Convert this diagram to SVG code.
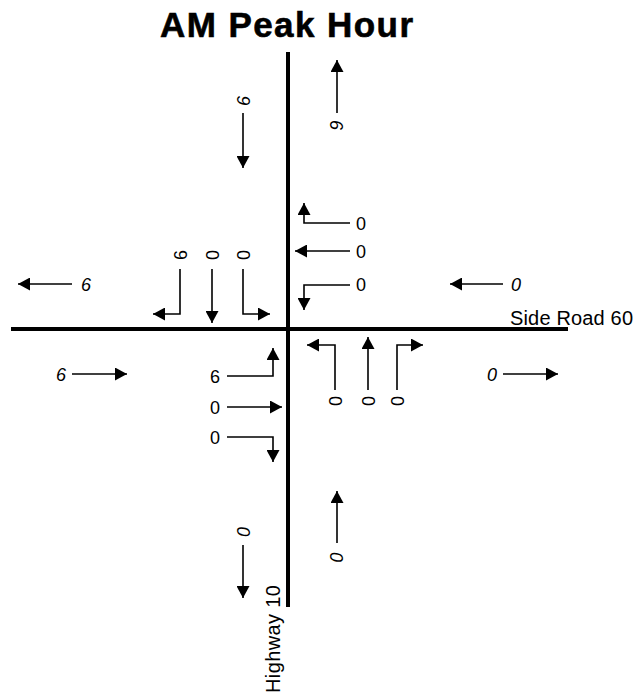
<svg xmlns="http://www.w3.org/2000/svg" width="637" height="698" viewBox="0 0 637 698">
<style>
.road{stroke:#000;stroke-width:4;fill:none}
.arr{stroke:#000;stroke-width:1.6;fill:none;marker-end:url(#ah)}
.lbl{font-family:"Liberation Sans",Arial,sans-serif;font-size:18px;fill:#000;text-anchor:middle}
.vol{font-family:"Liberation Sans",Arial,sans-serif;font-size:18px;font-style:italic;fill:#000;text-anchor:middle}
.name{font-family:"Liberation Sans",Arial,sans-serif;font-size:20px;fill:#000}
.title{font-family:"Liberation Sans",Arial,sans-serif;font-size:35px;font-weight:bold;fill:#000;stroke:#000;stroke-width:0.6}
</style>
<defs>
<marker id="ah" viewBox="0 0 12 13" refX="12" refY="6.5" markerWidth="12" markerHeight="13" markerUnits="userSpaceOnUse" orient="auto">
<path d="M0,0 L12,6.5 L0,13 z" fill="#000"/>
</marker>
</defs>
<rect width="637" height="698" fill="#fff"/>
<g id="title"><text class="title" x="160" y="37" textLength="253" lengthAdjust="spacing">AM Peak Hour</text></g>
<g id="roads">
<line class="road" x1="288" y1="52" x2="288" y2="607"/>
<line class="road" x1="11" y1="329" x2="568" y2="329"/>
</g>
<g id="road-names">
<text class="name" x="510" y="325" textLength="123" lengthAdjust="spacing">Side Road 60</text>
<text class="name" transform="translate(280,693) rotate(-90)" x="0" y="0" textLength="108" lengthAdjust="spacing">Highway 10</text>
</g>
<g id="connectors">
<path class="arr" d="M243,113 V168"/>
<path class="arr" d="M337,113 V60"/>
<path class="arr" d="M72,284 H18"/>
<path class="arr" d="M503,284 H450"/>
<path class="arr" d="M72,374 H127"/>
<path class="arr" d="M503,374 H558"/>
<path class="arr" d="M243,545 V598"/>
<path class="arr" d="M337,543 V491"/>
<path class="arr" d="M180,269 V314 H153"/>
<path class="arr" d="M212,269 V323"/>
<path class="arr" d="M243,269 V314 H270"/>
<path class="arr" d="M350,223 H304 V203"/>
<path class="arr" d="M350,251 H295"/>
<path class="arr" d="M350,285 H304 V310"/>
<path class="arr" d="M335,390 V345 H307"/>
<path class="arr" d="M368,390 V337"/>
<path class="arr" d="M397,390 V345 H423"/>
<path class="arr" d="M227,376 H273 V348"/>
<path class="arr" d="M227,407 H282"/>
<path class="arr" d="M227,437 H273 V462"/>
</g>
<g id="volumes">
<text class="vol" transform="translate(243,101) rotate(-90)" x="0" y="6.5">6</text>
<text class="vol" transform="translate(336,125) rotate(90)" x="0" y="6.5">6</text>
<text class="vol" x="86" y="290.5">6</text>
<text class="vol" x="516" y="290.5">0</text>
<text class="vol" x="61" y="380.5">6</text>
<text class="vol" x="492" y="380.5">0</text>
<text class="vol" transform="translate(243,532) rotate(-90)" x="0" y="6.5">0</text>
<text class="vol" transform="translate(336,557) rotate(90)" x="0" y="6.5">0</text>
</g>
<g id="lane-sb">
<text class="lbl" transform="translate(180,255) rotate(-90)" x="0" y="6.5">6</text>
<text class="lbl" transform="translate(212,255) rotate(-90)" x="0" y="6.5">0</text>
<text class="lbl" transform="translate(243,255) rotate(-90)" x="0" y="6.5">0</text>
</g>
<g id="lane-wb">
<text class="lbl" x="361" y="230">0</text>
<text class="lbl" x="361" y="258">0</text>
<text class="lbl" x="361" y="291">0</text>
</g>
<g id="lane-nb">
<text class="lbl" transform="translate(335,401) rotate(-90)" x="0" y="6.5">0</text>
<text class="lbl" transform="translate(368,401) rotate(-90)" x="0" y="6.5">0</text>
<text class="lbl" transform="translate(397,401) rotate(-90)" x="0" y="6.5">0</text>
</g>
<g id="lane-eb">
<text class="lbl" x="215" y="383">6</text>
<text class="lbl" x="215" y="414">0</text>
<text class="lbl" x="215" y="444">0</text>
</g>
</svg>
